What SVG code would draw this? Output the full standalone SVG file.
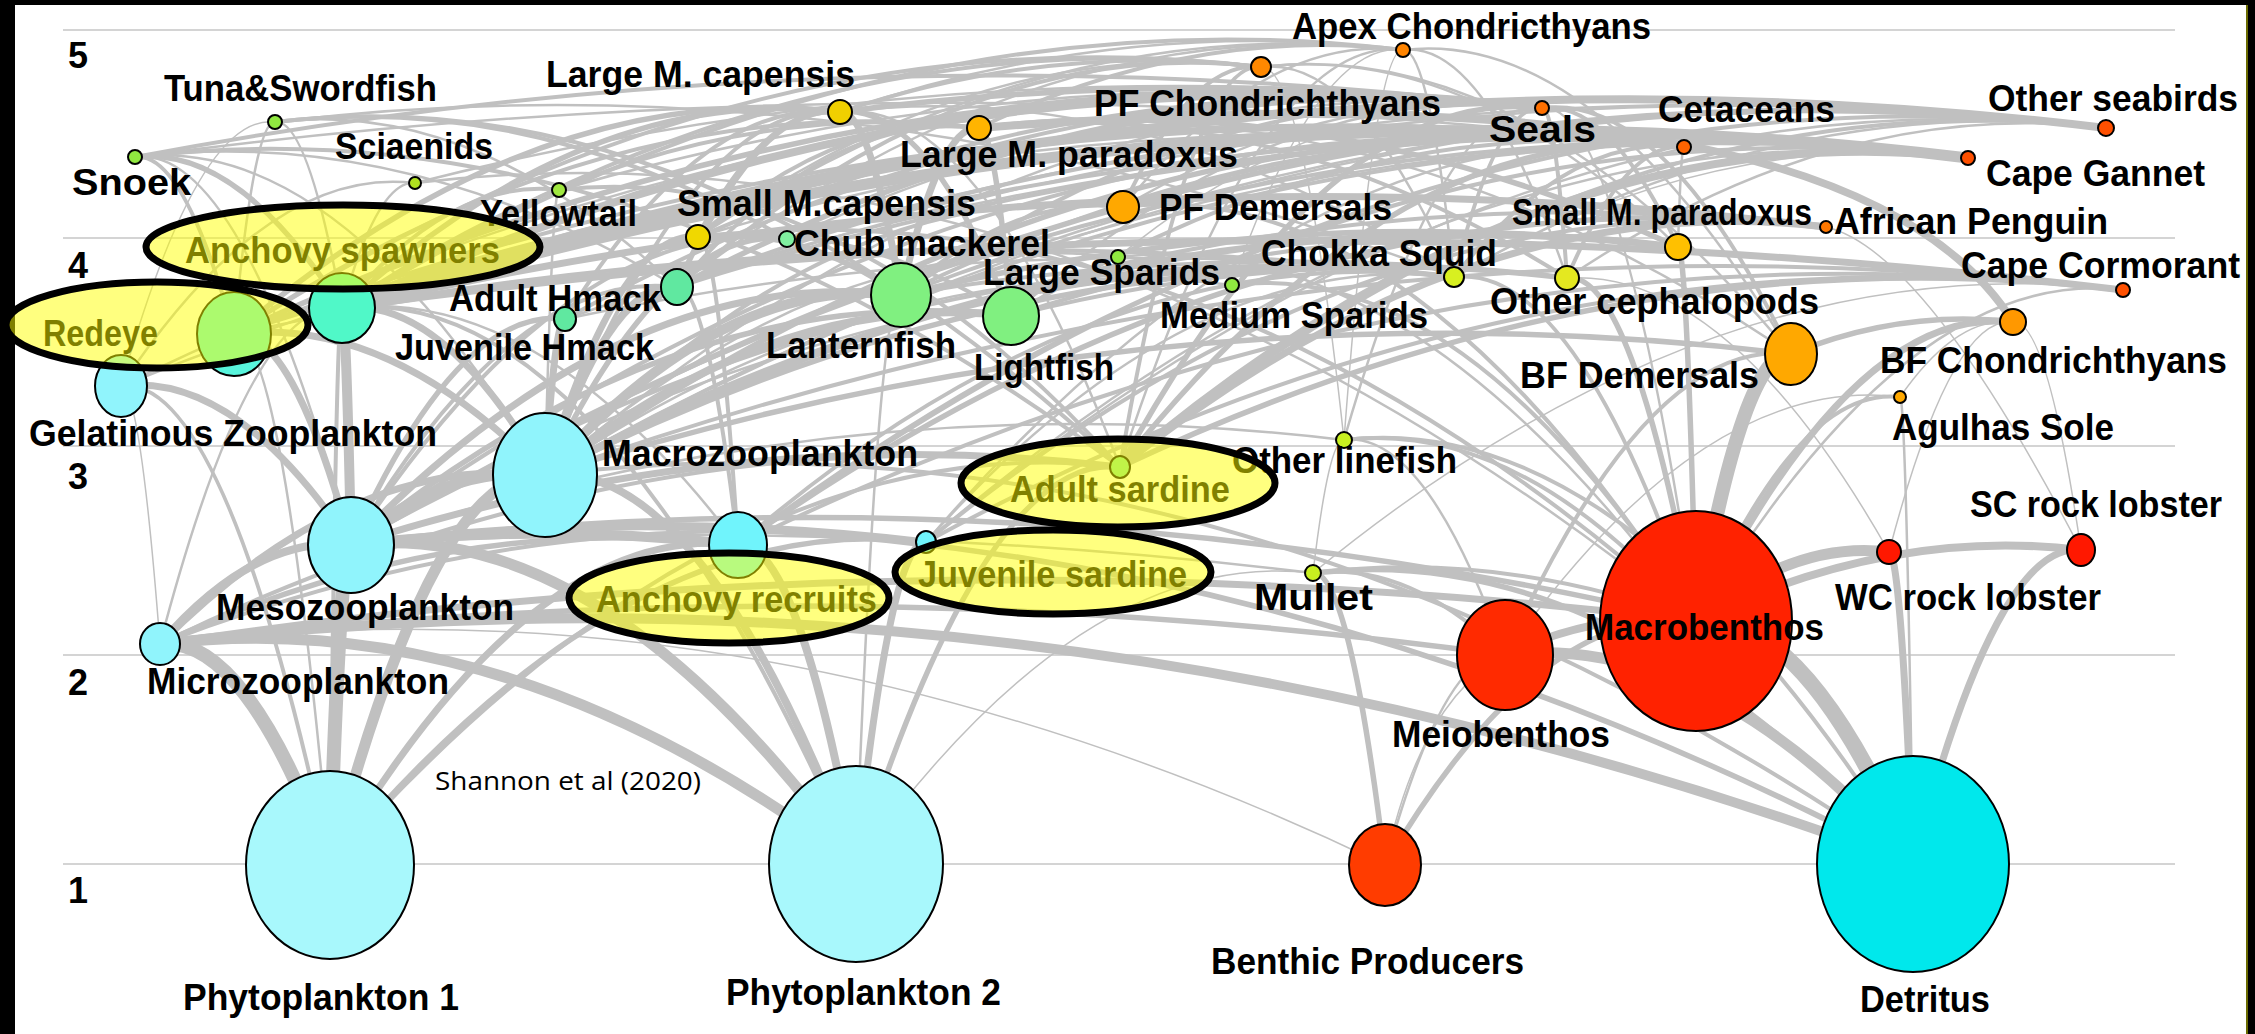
<svg xmlns="http://www.w3.org/2000/svg" width="2255" height="1034" viewBox="0 0 2255 1034">
<style>
.nd{stroke:#000;stroke-width:2}
.lb{font-family:"Liberation Sans",Arial,Helvetica,sans-serif;font-weight:bold;font-size:37px;fill:#000}
.ax{font-family:"Liberation Sans",Arial,Helvetica,sans-serif;font-weight:bold;font-size:36px;fill:#000}
.gr{stroke:#D4D4D4;stroke-width:2}
#connectors path{fill:none;stroke:#C0C0C0}
.hl{fill:#FFFF00;fill-opacity:0.5;stroke:#000;stroke-width:7}
.src{font-family:"Open Sans","Noto Sans",sans-serif;font-size:25px;fill:#000}
</style>
<rect x="0" y="0" width="2255" height="1034" fill="#000"/>
<rect x="15" y="5" width="2232" height="1029" fill="#fff"/>
<line x1="2247" y1="5" x2="2247" y2="1034" stroke="#6B6B00" stroke-width="2"/>
<g id="grid">
<line class="gr" x1="63" y1="30" x2="2175" y2="30"/>
<line class="gr" x1="63" y1="238" x2="2175" y2="238"/>
<line class="gr" x1="63" y1="446" x2="2175" y2="446"/>
<line class="gr" x1="63" y1="655" x2="2175" y2="655"/>
<line class="gr" x1="63" y1="864" x2="2175" y2="864"/>
<text class="ax" x="68" y="68">5</text>
<text class="ax" x="68" y="278">4</text>
<text class="ax" x="68" y="489">3</text>
<text class="ax" x="68" y="695">2</text>
<text class="ax" x="68" y="903">1</text>
</g>
<g id="connectors">
<g stroke-width="16"><path d="M1913 864Q1804 608 1696 621"/></g>
<g stroke-width="14">
<path d="M330 865Q245 634 160 644"/><path d="M330 865Q340 544 351 545"/><path d="M1696 621Q1744 348 1791 354"/>
</g>
<g stroke-width="11">
<path d="M330 865Q437 462 545 475"/><path d="M856 864Q508 602 160 644"/><path d="M856 864Q603 515 351 545"/><path d="M1913 864Q1709 631 1505 655"/><path d="M351 545Q448 463 545 475"/><path d="M342 308Q1155 60 1968 158"/><path d="M1696 621Q1793 540 1889 552"/>
</g>
<g stroke-width="10">
<path d="M1913 864Q1036 539 160 644"/><path d="M351 545Q346 308 342 308"/><path d="M351 545Q544 522 738 545"/><path d="M545 475Q723 274 901 295"/>
</g>
<g stroke-width="8">
<path d="M856 864Q700 456 545 475"/><path d="M856 864Q797 538 738 545"/><path d="M160 644Q255 534 351 545"/><path d="M545 475Q778 288 1011 316"/><path d="M545 475Q611 279 677 287"/><path d="M342 308Q1224 22 2106 128"/><path d="M342 308Q942 36 1542 108"/><path d="M1120 467Q1544 107 1968 158"/><path d="M1696 621Q1889 527 2081 550"/><path d="M1505 655Q1601 610 1696 621"/><path d="M979 128Q1850 60 2013 322"/>
</g>
<g stroke-width="7">
<path d="M330 865Q534 520 738 545"/><path d="M856 864Q891 538 926 542"/><path d="M1913 864Q1901 551 1889 552"/><path d="M1913 864Q1997 540 2081 550"/><path d="M160 644Q352 452 545 475"/><path d="M160 644Q928 529 1696 621"/><path d="M351 545Q292 327 234 334"/><path d="M351 545Q236 372 121 386"/><path d="M351 545Q638 507 926 542"/><path d="M351 545Q735 421 1120 467"/><path d="M351 545Q626 262 901 295"/><path d="M545 475Q443 296 342 308"/><path d="M545 475Q389 315 234 334"/><path d="M545 475Q555 318 565 319"/><path d="M545 475Q621 228 698 237"/><path d="M545 475Q1111 179 1678 247"/><path d="M342 308Q1084 138 1826 227"/><path d="M342 308Q1013 66 1684 147"/><path d="M342 308Q1232 183 2123 290"/><path d="M1120 467Q1473 185 1826 227"/><path d="M901 295Q870 108 840 112"/><path d="M901 295Q940 123 979 128"/><path d="M1696 621Q1855 303 2013 322"/>
</g>
<g stroke-width="5.5">
<path d="M330 865Q628 506 926 542"/><path d="M856 864Q988 451 1120 467"/><path d="M1913 864Q1132 451 351 545"/><path d="M1913 864Q1613 537 1313 573"/><path d="M1385 865Q1540 602 1696 621"/><path d="M1385 865Q1349 569 1313 573"/><path d="M160 644Q449 510 738 545"/><path d="M160 644Q832 563 1505 655"/><path d="M351 545Q681 276 1011 316"/><path d="M351 545Q458 306 565 319"/><path d="M351 545Q1023 464 1696 621"/><path d="M545 475Q1000 222 1454 277"/><path d="M545 475Q1056 217 1567 278"/><path d="M545 475Q1168 279 1791 354"/><path d="M545 475Q666 224 787 239"/><path d="M545 475Q1114 79 1684 147"/><path d="M342 308Q238 145 135 157"/><path d="M342 308Q591 82 840 112"/><path d="M738 545Q1282 162 1826 227"/><path d="M234 334Q537 76 840 112"/><path d="M234 334Q888 30 1542 108"/><path d="M1120 467Q1331 83 1542 108"/><path d="M1120 467Q1402 113 1684 147"/><path d="M1120 467Q1621 230 2123 290"/><path d="M901 295Q1290 200 1678 247"/><path d="M901 295Q800 225 698 237"/><path d="M1011 316Q926 102 840 112"/><path d="M1011 316Q995 126 979 128"/><path d="M677 287Q759 102 840 112"/><path d="M677 287Q1110 56 1542 108"/><path d="M698 237Q769 103 840 112"/><path d="M1678 247Q1329 86 979 128"/><path d="M1791 354Q1902 309 2013 322"/><path d="M1696 621Q1632 270 1567 278"/><path d="M1696 621Q1687 246 1678 247"/><path d="M840 112Q1191 66 1542 108"/><path d="M351 545Q1228 23 2106 128"/>
</g>
<g stroke-width="4">
<path d="M330 865Q225 373 121 386"/><path d="M330 865Q725 420 1120 467"/><path d="M330 865Q336 307 342 308"/><path d="M856 864Q599 277 342 308"/><path d="M1913 864Q1229 393 545 475"/><path d="M1913 864Q1628 406 1344 440"/><path d="M160 644Q543 496 926 542"/><path d="M160 644Q640 409 1120 467"/><path d="M351 545Q514 267 677 287"/><path d="M351 545Q569 213 787 239"/><path d="M351 545Q902 211 1454 277"/><path d="M545 475Q692 94 840 112"/><path d="M545 475Q834 172 1123 207"/><path d="M342 308Q801 12 1261 67"/><path d="M342 308Q450 177 559 190"/><path d="M342 308Q898 210 1454 277"/><path d="M342 308Q660 90 979 128"/><path d="M738 545Q718 235 698 237"/><path d="M738 545Q1096 234 1454 277"/><path d="M738 545Q1430 207 2123 290"/><path d="M738 545Q707 283 677 287"/><path d="M738 545Q1353 84 1968 158"/><path d="M234 334Q184 151 135 157"/><path d="M234 334Q606 83 979 128"/><path d="M234 334Q959 60 1684 147"/><path d="M234 334Q1101 54 1968 158"/><path d="M234 334Q1170 16 2106 128"/><path d="M1120 467Q697 71 275 122"/><path d="M1120 467Q627 98 135 157"/><path d="M1120 467Q839 156 559 190"/><path d="M1120 467Q1190 59 1261 67"/><path d="M1120 467Q1613 69 2106 128"/><path d="M926 542Q1376 173 1826 227"/><path d="M926 542Q1524 218 2123 290"/><path d="M901 295Q1234 238 1567 278"/><path d="M901 295Q1292 100 1684 147"/><path d="M901 295Q1012 194 1123 207"/><path d="M1011 316Q855 218 698 237"/><path d="M1011 316Q1345 207 1678 247"/><path d="M1011 316Q1289 245 1567 278"/><path d="M1011 316Q1348 107 1684 147"/><path d="M677 287Q828 110 979 128"/><path d="M677 287Q1323 81 1968 158"/><path d="M677 287Q969 32 1261 67"/><path d="M677 287Q1181 87 1684 147"/><path d="M565 319Q703 96 840 112"/><path d="M565 319Q1054 49 1542 108"/><path d="M698 237Q839 111 979 128"/><path d="M698 237Q1120 57 1542 108"/><path d="M1678 247Q1610 100 1542 108"/><path d="M787 239Q531 91 275 122"/><path d="M787 239Q1378 87 1968 158"/><path d="M1454 277Q1498 103 1542 108"/><path d="M1454 277Q1569 133 1684 147"/><path d="M1567 278Q1555 106 1542 108"/><path d="M1567 278Q1626 140 1684 147"/><path d="M1567 278Q1273 93 979 128"/><path d="M1123 207Q1192 59 1261 67"/><path d="M1791 354Q1667 93 1542 108"/><path d="M1696 621Q1798 385 1900 397"/><path d="M1696 621Q1575 262 1454 277"/><path d="M1696 621Q1464 257 1232 285"/><path d="M1696 621Q1520 419 1344 440"/><path d="M1696 621Q1505 550 1313 573"/><path d="M1696 621Q1410 173 1123 207"/><path d="M1696 621Q1197 177 698 237"/><path d="M1505 655Q1648 337 1791 354"/><path d="M1505 655Q1409 561 1313 573"/><path d="M135 157Q838 24 1542 108"/><path d="M840 112Q1050 42 1261 67"/><path d="M979 128Q1191 25 1403 50"/><path d="M234 334Q747 5 1261 67"/><path d="M545 475Q1256 73 1968 158"/><path d="M545 475Q1185 150 1826 227"/><path d="M545 475Q1334 195 2123 290"/><path d="M351 545Q1017 67 1684 147"/><path d="M351 545Q1159 61 1968 158"/><path d="M901 295Q1221 70 1542 108"/><path d="M342 308Q872 -14 1403 50"/><path d="M738 545Q1422 46 2106 128"/>
</g>
<g stroke-width="2.5">
<path d="M330 865Q282 328 234 334"/><path d="M856 864Q878 292 901 295"/><path d="M1913 864Q1906 396 1900 397"/><path d="M1385 865Q1445 648 1505 655"/><path d="M160 644Q251 297 342 308"/><path d="M351 545Q847 380 1344 440"/><path d="M351 545Q832 515 1313 573"/><path d="M351 545Q243 144 135 157"/><path d="M351 545Q959 205 1567 278"/><path d="M545 475Q1325 34 2106 128"/><path d="M545 475Q340 132 135 157"/><path d="M545 475Q888 244 1232 285"/><path d="M545 475Q831 223 1118 257"/><path d="M545 475Q552 189 559 190"/><path d="M545 475Q1043 48 1542 108"/><path d="M342 308Q308 118 275 122"/><path d="M342 308Q378 179 415 183"/><path d="M738 545Q540 284 342 308"/><path d="M234 334Q254 120 275 122"/><path d="M234 334Q844 204 1454 277"/><path d="M1120 467Q1261 33 1403 50"/><path d="M1120 467Q980 95 840 112"/><path d="M926 542Q1190 245 1454 277"/><path d="M926 542Q1305 102 1684 147"/><path d="M926 542Q1447 95 1968 158"/><path d="M901 295Q1504 56 2106 128"/><path d="M1011 316Q1277 76 1542 108"/><path d="M677 287Q406 124 135 157"/><path d="M677 287Q476 98 275 122"/><path d="M677 287Q1040 6 1403 50"/><path d="M677 287Q1392 42 2106 128"/><path d="M565 319Q1267 74 1968 158"/><path d="M565 319Q1010 224 1454 277"/><path d="M698 237Q1191 88 1684 147"/><path d="M698 237Q980 33 1261 67"/><path d="M1678 247Q1470 42 1261 67"/><path d="M1678 247Q1681 146 1684 147"/><path d="M787 239Q1165 63 1542 108"/><path d="M1454 277Q1147 75 840 112"/><path d="M1454 277Q1429 47 1403 50"/><path d="M1454 277Q865 51 275 122"/><path d="M1454 277Q1358 55 1261 67"/><path d="M1567 278Q1485 40 1403 50"/><path d="M1567 278Q1837 96 2106 128"/><path d="M1123 207Q1263 33 1403 50"/><path d="M1123 207Q1333 83 1542 108"/><path d="M1123 207Q1404 113 1684 147"/><path d="M1791 354Q1526 35 1261 67"/><path d="M1791 354Q1385 79 979 128"/><path d="M1791 354Q1597 27 1403 50"/><path d="M1696 621Q1407 222 1118 257"/><path d="M1696 621Q1619 99 1542 108"/><path d="M1696 621Q1910 264 2123 290"/><path d="M1696 621Q1056 106 415 183"/><path d="M1505 655Q1425 430 1344 440"/><path d="M121 386Q268 165 415 183"/><path d="M1344 440Q1443 96 1542 108"/><path d="M135 157Q909 54 1684 147"/><path d="M559 190Q1050 49 1542 108"/><path d="M415 183Q978 40 1542 108"/><path d="M840 112Q1121 16 1403 50"/><path d="M698 237Q1050 8 1403 50"/><path d="M787 239Q1446 49 2106 128"/><path d="M901 295Q1434 94 1968 158"/><path d="M926 542Q1516 57 2106 128"/><path d="M1454 277Q1780 89 2106 128"/><path d="M121 386Q831 40 1542 108"/><path d="M121 386Q902 70 1684 147"/>
</g>
<g stroke-width="1.5">
<path d="M856 864Q1084 546 1313 573"/><path d="M1385 865Q1420 700 1505 655"/><path d="M1385 865Q772 570 160 644"/><path d="M160 644Q140 384 121 386"/><path d="M1454 277Q1711 127 1968 158"/><path d="M1505 655Q1703 373 1900 397"/><path d="M121 386Q198 113 275 122"/><path d="M1344 440Q1374 46 1403 50"/><path d="M1344 440Q1303 62 1261 67"/><path d="M1313 573Q1329 438 1344 440"/><path d="M1313 573Q1718 241 2123 290"/><path d="M1232 285Q1318 40 1403 50"/><path d="M1118 257Q1330 83 1542 108"/><path d="M1889 552Q1951 315 2013 322"/><path d="M2081 550Q2047 318 2013 322"/><path d="M1900 397Q1957 315 2013 322"/><path d="M1889 552Q1728 268 1567 278"/><path d="M2081 550Q1925 250 1826 227"/>
</g>
</g>
<g id="nodes">
<g id="n-detritus"><ellipse class="nd" cx="1913" cy="864" rx="96" ry="108" fill="#00E8EC"/><text class="lb" x="1860" y="1012" textLength="130" lengthAdjust="spacingAndGlyphs">Detritus</text></g>
<g id="n-phyto1"><ellipse class="nd" cx="330" cy="865" rx="84" ry="94" fill="#A8F8FC"/><text class="lb" x="183" y="1010" textLength="276" lengthAdjust="spacingAndGlyphs">Phytoplankton 1</text></g>
<g id="n-phyto2"><ellipse class="nd" cx="856" cy="864" rx="87" ry="98" fill="#A8F8FC"/><text class="lb" x="726" y="1005" textLength="275" lengthAdjust="spacingAndGlyphs">Phytoplankton 2</text></g>
<g id="n-benthicprod"><ellipse class="nd" cx="1385" cy="865" rx="36" ry="41" fill="#FF3C00"/><text class="lb" x="1211" y="974" textLength="313" lengthAdjust="spacingAndGlyphs">Benthic Producers</text></g>
<g id="n-macrobenthos"><ellipse class="nd" cx="1696" cy="621" rx="96" ry="110" fill="#FF2200"/><text class="lb" x="1585" y="640" textLength="239" lengthAdjust="spacingAndGlyphs">Macrobenthos</text></g>
<g id="n-meiobenthos"><ellipse class="nd" cx="1505" cy="655" rx="48" ry="55" fill="#FF2A00"/><text class="lb" x="1392" y="747" textLength="218" lengthAdjust="spacingAndGlyphs">Meiobenthos</text></g>
<g id="n-microzoo"><ellipse class="nd" cx="160" cy="644" rx="20" ry="21" fill="#90F4FC"/><text class="lb" x="147" y="694" textLength="302" lengthAdjust="spacingAndGlyphs">Microzooplankton</text></g>
<g id="n-mesozoo"><ellipse class="nd" cx="351" cy="545" rx="43" ry="48" fill="#90F4FC"/><text class="lb" x="216" y="620" textLength="298" lengthAdjust="spacingAndGlyphs">Mesozooplankton</text></g>
<g id="n-macrozoo"><ellipse class="nd" cx="545" cy="475" rx="52" ry="62" fill="#90F4FC"/><text class="lb" x="602" y="466" textLength="316" lengthAdjust="spacingAndGlyphs">Macrozooplankton</text></g>
<g id="n-gelatinous"><ellipse class="nd" cx="121" cy="386" rx="26" ry="31" fill="#90F4FC"/><text class="lb" x="29" y="446" textLength="408" lengthAdjust="spacingAndGlyphs">Gelatinous Zooplankton</text></g>
<g id="n-anchovyrecruits"><ellipse class="nd" cx="738" cy="545" rx="29" ry="33" fill="#70F4FC"/><text class="lb" x="596" y="612" textLength="281" lengthAdjust="spacingAndGlyphs">Anchovy recruits</text></g>
<g id="n-juvsardine"><ellipse class="nd" cx="926" cy="542" rx="10" ry="11" fill="#70F4FC"/><text class="lb" x="918" y="587" textLength="269" lengthAdjust="spacingAndGlyphs">Juvenile sardine</text></g>
<g id="n-adultsardine"><ellipse class="nd" cx="1120" cy="467" rx="10" ry="11" fill="#80E890"/><text class="lb" x="1010" y="502" textLength="220" lengthAdjust="spacingAndGlyphs">Adult sardine</text></g>
<g id="n-anchovyspawners"><ellipse class="nd" cx="342" cy="308" rx="33" ry="35" fill="#50F8C8"/><text class="lb" x="185" y="263" textLength="315" lengthAdjust="spacingAndGlyphs">Anchovy spawners</text></g>
<g id="n-redeye"><ellipse class="nd" cx="234" cy="334" rx="37" ry="42" fill="#58F4DC"/><text class="lb" x="43" y="346" textLength="115" lengthAdjust="spacingAndGlyphs">Redeye</text></g>
<g id="n-otherlinefish"><circle class="nd" cx="1344" cy="440" r="8" fill="#C8F020"/><text class="lb" x="1232" y="473" textLength="225" lengthAdjust="spacingAndGlyphs">Other linefish</text></g>
<g id="n-mullet"><circle class="nd" cx="1313" cy="573" r="8" fill="#C8F020"/><text class="lb" x="1254" y="610" textLength="119" lengthAdjust="spacingAndGlyphs">Mullet</text></g>
<g id="n-lanternfish"><ellipse class="nd" cx="901" cy="295" rx="30" ry="32" fill="#80F080"/><text class="lb" x="766" y="358" textLength="190" lengthAdjust="spacingAndGlyphs">Lanternfish</text></g>
<g id="n-lightfish"><ellipse class="nd" cx="1011" cy="316" rx="28" ry="29" fill="#80F080"/><text class="lb" x="974" y="380" textLength="140" lengthAdjust="spacingAndGlyphs">Lightfish</text></g>
<g id="n-adulthmack"><ellipse class="nd" cx="677" cy="287" rx="16" ry="18" fill="#60E8A0"/><text class="lb" x="449" y="311" textLength="212" lengthAdjust="spacingAndGlyphs">Adult Hmack</text></g>
<g id="n-juvhmack"><ellipse class="nd" cx="565" cy="319" rx="11" ry="12" fill="#60E8A0"/><text class="lb" x="395" y="360" textLength="259" lengthAdjust="spacingAndGlyphs">Juvenile Hmack</text></g>
<g id="n-smallmcap"><circle class="nd" cx="698" cy="237" r="12" fill="#F0D800"/><text class="lb" x="677" y="216" textLength="299" lengthAdjust="spacingAndGlyphs">Small M.capensis</text></g>
<g id="n-chubmackerel"><circle class="nd" cx="787" cy="239" r="8" fill="#80F0A0"/><text class="lb" x="794" y="256" textLength="256" lengthAdjust="spacingAndGlyphs">Chub mackerel</text></g>
<g id="n-pfdemersals"><circle class="nd" cx="1123" cy="207" r="16" fill="#FFA800"/><text class="lb" x="1159" y="220" textLength="233" lengthAdjust="spacingAndGlyphs">PF Demersals</text></g>
<g id="n-largesparids"><circle class="nd" cx="1118" cy="257" r="7" fill="#90E840"/><text class="lb" x="983" y="285" textLength="237" lengthAdjust="spacingAndGlyphs">Large Sparids</text></g>
<g id="n-mediumsparids"><circle class="nd" cx="1232" cy="285" r="7" fill="#90E840"/><text class="lb" x="1160" y="328" textLength="268" lengthAdjust="spacingAndGlyphs">Medium Sparids</text></g>
<g id="n-chokka"><circle class="nd" cx="1454" cy="277" r="10" fill="#D8F020"/><text class="lb" x="1261" y="266" textLength="236" lengthAdjust="spacingAndGlyphs">Chokka Squid</text></g>
<g id="n-othercephalopods"><circle class="nd" cx="1567" cy="278" r="12" fill="#E4E820"/><text class="lb" x="1490" y="314" textLength="329" lengthAdjust="spacingAndGlyphs">Other cephalopods</text></g>
<g id="n-smallmpar"><circle class="nd" cx="1678" cy="247" r="13" fill="#FFC000"/><text class="lb" x="1512" y="225" textLength="300" lengthAdjust="spacingAndGlyphs">Small M. paradoxus</text></g>
<g id="n-bfdemersals"><ellipse class="nd" cx="1791" cy="354" rx="26" ry="31" fill="#FFA800"/><text class="lb" x="1520" y="388" textLength="239" lengthAdjust="spacingAndGlyphs">BF Demersals</text></g>
<g id="n-bfchond"><circle class="nd" cx="2013" cy="322" r="13" fill="#FF9800"/><text class="lb" x="1880" y="373" textLength="347" lengthAdjust="spacingAndGlyphs">BF Chondrichthyans</text></g>
<g id="n-agulhassole"><circle class="nd" cx="1900" cy="397" r="6" fill="#FFA800"/><text class="lb" x="1892" y="440" textLength="222" lengthAdjust="spacingAndGlyphs">Agulhas Sole</text></g>
<g id="n-scrocklobster"><ellipse class="nd" cx="2081" cy="550" rx="14" ry="16" fill="#FF1800"/><text class="lb" x="1970" y="517" textLength="252" lengthAdjust="spacingAndGlyphs">SC rock lobster</text></g>
<g id="n-wcrocklobster"><circle class="nd" cx="1889" cy="552" r="12" fill="#FF1800"/><text class="lb" x="1835" y="610" textLength="266" lengthAdjust="spacingAndGlyphs">WC rock lobster</text></g>
<g id="n-snoek"><circle class="nd" cx="135" cy="157" r="7" fill="#90E840"/><text class="lb" x="72" y="195" textLength="119" lengthAdjust="spacingAndGlyphs">Snoek</text></g>
<g id="n-tuna"><circle class="nd" cx="275" cy="122" r="7" fill="#90E840"/><text class="lb" x="164" y="101" textLength="273" lengthAdjust="spacingAndGlyphs">Tuna&amp;Swordfish</text></g>
<g id="n-sciaenids"><circle class="nd" cx="415" cy="183" r="6" fill="#B0E020"/><text class="lb" x="335" y="159" textLength="158" lengthAdjust="spacingAndGlyphs">Sciaenids</text></g>
<g id="n-yellowtail"><circle class="nd" cx="559" cy="190" r="7" fill="#A0E840"/><text class="lb" x="480" y="226" textLength="157" lengthAdjust="spacingAndGlyphs">Yellowtail</text></g>
<g id="n-largemcap"><circle class="nd" cx="840" cy="112" r="12" fill="#F0D000"/><text class="lb" x="546" y="87" textLength="309" lengthAdjust="spacingAndGlyphs">Large M. capensis</text></g>
<g id="n-largempar"><circle class="nd" cx="979" cy="128" r="12" fill="#FFB400"/><text class="lb" x="900" y="167" textLength="338" lengthAdjust="spacingAndGlyphs">Large M. paradoxus</text></g>
<g id="n-apex"><circle class="nd" cx="1403" cy="50" r="7" fill="#FF8400"/><text class="lb" x="1292" y="39" textLength="359" lengthAdjust="spacingAndGlyphs">Apex Chondricthyans</text></g>
<g id="n-pfchond"><circle class="nd" cx="1261" cy="67" r="10" fill="#FF8800"/><text class="lb" x="1094" y="116" textLength="347" lengthAdjust="spacingAndGlyphs">PF Chondrichthyans</text></g>
<g id="n-seals"><circle class="nd" cx="1542" cy="108" r="7" fill="#FF7000"/><text class="lb" x="1489" y="142" textLength="107" lengthAdjust="spacingAndGlyphs">Seals</text></g>
<g id="n-cetaceans"><circle class="nd" cx="1684" cy="147" r="7" fill="#FF6400"/><text class="lb" x="1658" y="122" textLength="177" lengthAdjust="spacingAndGlyphs">Cetaceans</text></g>
<g id="n-otherseabirds"><circle class="nd" cx="2106" cy="128" r="8" fill="#FF5000"/><text class="lb" x="1988" y="111" textLength="250" lengthAdjust="spacingAndGlyphs">Other seabirds</text></g>
<g id="n-capegannet"><circle class="nd" cx="1968" cy="158" r="7" fill="#FF5000"/><text class="lb" x="1986" y="186" textLength="219" lengthAdjust="spacingAndGlyphs">Cape Gannet</text></g>
<g id="n-africanpenguin"><circle class="nd" cx="1826" cy="227" r="6" fill="#FF7800"/><text class="lb" x="1834" y="234" textLength="274" lengthAdjust="spacingAndGlyphs">African Penguin</text></g>
<g id="n-capecormorant"><circle class="nd" cx="2123" cy="290" r="7" fill="#FF5000"/><text class="lb" x="1961" y="278" textLength="279" lengthAdjust="spacingAndGlyphs">Cape Cormorant</text></g>
</g>
<g id="highlights">
<ellipse id="hl-anchovyspawners" class="hl" cx="343" cy="247" rx="197" ry="42"/>
<ellipse id="hl-redeye" class="hl" cx="157" cy="325" rx="151" ry="43"/>
<ellipse id="hl-adultsardine" class="hl" cx="1118" cy="483" rx="157" ry="44"/>
<ellipse id="hl-juvsardine" class="hl" cx="1053" cy="572" rx="158" ry="42"/>
<ellipse id="hl-anchovyrecruits" class="hl" cx="729" cy="598" rx="160" ry="45"/>
</g>
<text id="source" class="src" x="435" y="790" textLength="266" lengthAdjust="spacingAndGlyphs">Shannon et al (2020)</text>
</svg>
